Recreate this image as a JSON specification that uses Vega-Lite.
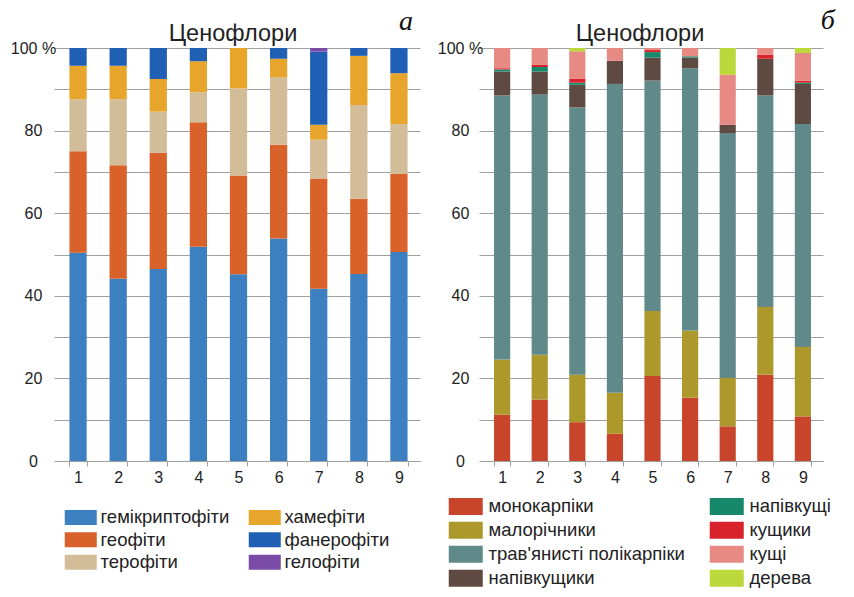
{
  "$schema": "https://vega.github.io/schema/vega-lite/v6.json",
  "background": "white",
  "padding": {"left": 10, "top": 7, "right": 5, "bottom": 3},
  "bounds": "flush",
  "spacing": 62,
  "config": {
    "font": "Liberation Sans",
    "view": {"stroke": null},
    "axis": {"labelFont": "Liberation Sans", "labelFontSize": 16, "labelColor": "#222222", "title": null},
    "legend": {"labelFont": "Liberation Sans", "labelFontSize": 18.5, "labelColor": "#222222", "labelLimit": 400, "title": null, "orient": "none", "columns": 2, "symbolStrokeWidth": 0, "symbolOpacity": 1}
  },
  "resolve": {"scale": {"color": "independent", "x": "independent", "y": "independent"}, "legend": {"color": "independent"}},
  "datasets": {
    "a": [
      {"c": "1", "t": "гемікриптофіти", "v": 50.4, "o": 1},
      {"c": "1", "t": "геофіти", "v": 24.6, "o": 2},
      {"c": "1", "t": "терофіти", "v": 12.6, "o": 3},
      {"c": "1", "t": "хамефіти", "v": 8.1, "o": 4},
      {"c": "1", "t": "фанерофіти", "v": 4.3, "o": 5},
      {"c": "2", "t": "гемікриптофіти", "v": 44.1, "o": 1},
      {"c": "2", "t": "геофіти", "v": 27.5, "o": 2},
      {"c": "2", "t": "терофіти", "v": 16.0, "o": 3},
      {"c": "2", "t": "хамефіти", "v": 8.1, "o": 4},
      {"c": "2", "t": "фанерофіти", "v": 4.3, "o": 5},
      {"c": "3", "t": "гемікриптофіти", "v": 46.5, "o": 1},
      {"c": "3", "t": "геофіти", "v": 28.1, "o": 2},
      {"c": "3", "t": "терофіти", "v": 10.0, "o": 3},
      {"c": "3", "t": "хамефіти", "v": 7.9, "o": 4},
      {"c": "3", "t": "фанерофіти", "v": 7.5, "o": 5},
      {"c": "4", "t": "гемікриптофіти", "v": 51.9, "o": 1},
      {"c": "4", "t": "геофіти", "v": 30.1, "o": 2},
      {"c": "4", "t": "терофіти", "v": 7.3, "o": 3},
      {"c": "4", "t": "хамефіти", "v": 7.5, "o": 4},
      {"c": "4", "t": "фанерофіти", "v": 3.2, "o": 5},
      {"c": "5", "t": "гемікриптофіти", "v": 45.2, "o": 1},
      {"c": "5", "t": "геофіти", "v": 23.9, "o": 2},
      {"c": "5", "t": "терофіти", "v": 21.1, "o": 3},
      {"c": "5", "t": "хамефіти", "v": 9.8, "o": 4},
      {"c": "6", "t": "гемікриптофіти", "v": 53.9, "o": 1},
      {"c": "6", "t": "геофіти", "v": 22.7, "o": 2},
      {"c": "6", "t": "терофіти", "v": 16.3, "o": 3},
      {"c": "6", "t": "хамефіти", "v": 4.5, "o": 4},
      {"c": "6", "t": "фанерофіти", "v": 2.6, "o": 5},
      {"c": "7", "t": "гемікриптофіти", "v": 41.7, "o": 1},
      {"c": "7", "t": "геофіти", "v": 26.7, "o": 2},
      {"c": "7", "t": "терофіти", "v": 9.4, "o": 3},
      {"c": "7", "t": "хамефіти", "v": 3.6, "o": 4},
      {"c": "7", "t": "фанерофіти", "v": 17.7, "o": 5},
      {"c": "7", "t": "гелофіти", "v": 0.9, "o": 6},
      {"c": "8", "t": "гемікриптофіти", "v": 45.3, "o": 1},
      {"c": "8", "t": "геофіти", "v": 18.2, "o": 2},
      {"c": "8", "t": "терофіти", "v": 22.7, "o": 3},
      {"c": "8", "t": "хамефіти", "v": 11.9, "o": 4},
      {"c": "8", "t": "фанерофіти", "v": 1.9, "o": 5},
      {"c": "9", "t": "гемікриптофіти", "v": 50.6, "o": 1},
      {"c": "9", "t": "геофіти", "v": 18.9, "o": 2},
      {"c": "9", "t": "терофіти", "v": 12.1, "o": 3},
      {"c": "9", "t": "хамефіти", "v": 12.3, "o": 4},
      {"c": "9", "t": "фанерофіти", "v": 6.1, "o": 5}
    ],
    "b": [
      {"c": "1", "t": "монокарпіки", "v": 11.2, "o": 1},
      {"c": "1", "t": "малорічники", "v": 13.4, "o": 2},
      {"c": "1", "t": "трав'янисті полікарпіки", "v": 63.9, "o": 3},
      {"c": "1", "t": "напівкущики", "v": 5.8, "o": 4},
      {"c": "1", "t": "напівкущі", "v": 0.5, "o": 5},
      {"c": "1", "t": "кущики", "v": 0.3, "o": 6},
      {"c": "1", "t": "кущі", "v": 4.9, "o": 7},
      {"c": "2", "t": "монокарпіки", "v": 14.9, "o": 1},
      {"c": "2", "t": "малорічники", "v": 10.8, "o": 2},
      {"c": "2", "t": "трав'янисті полікарпіки", "v": 63.0, "o": 3},
      {"c": "2", "t": "напівкущики", "v": 5.6, "o": 4},
      {"c": "2", "t": "напівкущі", "v": 1.1, "o": 5},
      {"c": "2", "t": "кущики", "v": 0.5, "o": 6},
      {"c": "2", "t": "кущі", "v": 4.1, "o": 7},
      {"c": "3", "t": "монокарпіки", "v": 9.4, "o": 1},
      {"c": "3", "t": "малорічники", "v": 11.5, "o": 2},
      {"c": "3", "t": "трав'янисті полікарпіки", "v": 64.7, "o": 3},
      {"c": "3", "t": "напівкущики", "v": 5.5, "o": 4},
      {"c": "3", "t": "напівкущі", "v": 0.5, "o": 5},
      {"c": "3", "t": "кущики", "v": 1.0, "o": 6},
      {"c": "3", "t": "кущі", "v": 6.6, "o": 7},
      {"c": "3", "t": "дерева", "v": 0.8, "o": 8},
      {"c": "4", "t": "монокарпіки", "v": 6.6, "o": 1},
      {"c": "4", "t": "малорічники", "v": 9.9, "o": 2},
      {"c": "4", "t": "трав'янисті полікарпіки", "v": 74.8, "o": 3},
      {"c": "4", "t": "напівкущики", "v": 5.6, "o": 4},
      {"c": "4", "t": "кущі", "v": 3.1, "o": 7},
      {"c": "5", "t": "монокарпіки", "v": 20.6, "o": 1},
      {"c": "5", "t": "малорічники", "v": 15.7, "o": 2},
      {"c": "5", "t": "трав'янисті полікарпіки", "v": 55.8, "o": 3},
      {"c": "5", "t": "напівкущики", "v": 5.6, "o": 4},
      {"c": "5", "t": "напівкущі", "v": 1.3, "o": 5},
      {"c": "5", "t": "кущики", "v": 0.5, "o": 6},
      {"c": "5", "t": "кущі", "v": 0.5, "o": 7},
      {"c": "6", "t": "монокарпіки", "v": 15.3, "o": 1},
      {"c": "6", "t": "малорічники", "v": 16.3, "o": 2},
      {"c": "6", "t": "трав'янисті полікарпіки", "v": 63.5, "o": 3},
      {"c": "6", "t": "напівкущики", "v": 2.6, "o": 4},
      {"c": "6", "t": "напівкущі", "v": 0.3, "o": 5},
      {"c": "6", "t": "кущі", "v": 2.0, "o": 7},
      {"c": "7", "t": "монокарпіки", "v": 8.4, "o": 1},
      {"c": "7", "t": "малорічники", "v": 11.7, "o": 2},
      {"c": "7", "t": "трав'янисті полікарпіки", "v": 59.3, "o": 3},
      {"c": "7", "t": "напівкущики", "v": 2.0, "o": 4},
      {"c": "7", "t": "кущі", "v": 12.1, "o": 7},
      {"c": "7", "t": "дерева", "v": 6.5, "o": 8},
      {"c": "8", "t": "монокарпіки", "v": 20.9, "o": 1},
      {"c": "8", "t": "малорічники", "v": 16.4, "o": 2},
      {"c": "8", "t": "трав'янисті полікарпіки", "v": 51.2, "o": 3},
      {"c": "8", "t": "напівкущики", "v": 8.9, "o": 4},
      {"c": "8", "t": "кущики", "v": 1.0, "o": 6},
      {"c": "8", "t": "кущі", "v": 1.6, "o": 7},
      {"c": "9", "t": "монокарпіки", "v": 10.8, "o": 1},
      {"c": "9", "t": "малорічники", "v": 16.8, "o": 2},
      {"c": "9", "t": "трав'янисті полікарпіки", "v": 54.0, "o": 3},
      {"c": "9", "t": "напівкущики", "v": 9.7, "o": 4},
      {"c": "9", "t": "напівкущі", "v": 0.3, "o": 5},
      {"c": "9", "t": "кущики", "v": 0.5, "o": 6},
      {"c": "9", "t": "кущі", "v": 6.7, "o": 7},
      {"c": "9", "t": "дерева", "v": 1.2, "o": 8}
    ],
    "la": [{"l": "а", "c": "9", "p": 104.3, "k": "label"}, {"l": "Ценофлори", "c": "5", "p": 101.7, "k": "title"}],
    "lb": [{"l": "б", "c": "9", "p": 104.5, "k": "label"}, {"l": "Ценофлори", "c": "5", "p": 101.7, "k": "title"}]
  },
  "hconcat": [
    {
      "width": 363,
      "height": 413,
      "layer": [
        {
          "data": {"name": "a"},
          "mark": {"type": "bar"},
          "encoding": {
            "x": {"field": "c", "type": "nominal", "scale": {"paddingInner": 0.57, "paddingOuter": 0.31},
                  "axis": {"labelAngle": 0, "domainColor": "#a0a0a0", "tickColor": "#a0a0a0", "tickBand": "extent", "tickSize": 5, "labelPadding": 3}},
            "y": {"field": "v", "type": "quantitative", "stack": "zero", "scale": {"domain": [0, 100], "nice": false},
                  "axis": {"values": [0, 10, 20, 30, 40, 50, 60, 70, 80, 90, 100], "labelExpr": "datum.value % 20 == 0 ? (datum.value == 100 ? '100 %' : datum.label) : ''", "grid": true, "gridColor": "#a0a0a0", "domain": false, "tickColor": "#a0a0a0", "tickSize": 3, "labelAlign": "center", "labelPadding": 21}},
            "order": {"field": "o", "type": "quantitative", "sort": "ascending"},
            "color": {"field": "t", "type": "nominal",
                      "scale": {"domain": ["гемікриптофіти", "геофіти", "терофіти", "хамефіти", "фанерофіти", "гелофіти"],
                                "range": ["#3d80c1", "#d9622b", "#d3bd99", "#e8a52b", "#1f5fb4", "#7a4ca8"]},
                      "legend": {"legendX": 6, "legendY": 460, "symbolType": "M-1,-1H3.27V1H-1Z", "symbolSize": 225, "labelOffset": 19, "rowPadding": 3.5, "columnPadding": 17}}
          }
        },
        {
          "data": {"name": "la"},
          "transform": [{"filter": "datum.k == 'label'"}],
          "mark": {"type": "text", "font": "Liberation Serif", "fontStyle": "italic", "fontSize": 28, "baseline": "alphabetic", "align": "center", "dx": 7, "color": "#111111"},
          "encoding": {
            "x": {"field": "c", "type": "nominal"},
            "y": {"field": "p", "type": "quantitative"},
            "text": {"field": "l"}
          }
        },
        {
          "data": {"name": "la"},
          "transform": [{"filter": "datum.k == 'title'"}],
          "mark": {"type": "text", "font": "Liberation Sans", "fontSize": 23.5, "baseline": "alphabetic", "align": "center", "dx": -5.5, "color": "#222222"},
          "encoding": {
            "x": {"field": "c", "type": "nominal"},
            "y": {"field": "p", "type": "quantitative"},
            "text": {"field": "l"}
          }
        }
      ]
    },
    {
      "width": 341,
      "height": 413,
      "layer": [
        {
          "data": {"name": "b"},
          "mark": {"type": "bar"},
          "encoding": {
            "x": {"field": "c", "type": "nominal", "scale": {"paddingInner": 0.57, "paddingOuter": 0.32},
                  "axis": {"labelAngle": 0, "domainColor": "#a0a0a0", "tickColor": "#a0a0a0", "tickBand": "extent", "tickSize": 5, "labelPadding": 3}},
            "y": {"field": "v", "type": "quantitative", "stack": "zero", "scale": {"domain": [0, 100], "nice": false},
                  "axis": {"values": [0, 10, 20, 30, 40, 50, 60, 70, 80, 90, 100], "labelExpr": "datum.value % 20 == 0 ? (datum.value == 100 ? '100 %' : datum.label) : ''", "grid": true, "gridColor": "#a0a0a0", "domain": false, "tickColor": "#a0a0a0", "tickSize": 3, "labelAlign": "center", "labelPadding": 19}},
            "order": {"field": "o", "type": "quantitative", "sort": "ascending"},
            "color": {"field": "t", "type": "nominal",
                      "scale": {"domain": ["монокарпіки", "малорічники", "трав'янисті полікарпіки", "напівкущики", "напівкущі", "кущики", "кущі", "дерева"],
                                "range": ["#c8452c", "#ad982b", "#5f8a89", "#5e4a41", "#16896a", "#d8232c", "#e68a83", "#bdd83a"]},
                      "legend": {"legendX": -34, "legendY": 449, "symbolType": "M-1,-1H3V1H-1Z", "symbolSize": 289, "labelOffset": 22, "rowPadding": 5, "columnPadding": 24}}
          }
        },
        {
          "data": {"name": "lb"},
          "transform": [{"filter": "datum.k == 'label'"}],
          "mark": {"type": "text", "font": "Liberation Serif", "fontStyle": "italic", "fontSize": 28, "baseline": "alphabetic", "align": "center", "dx": 25, "color": "#111111"},
          "encoding": {
            "x": {"field": "c", "type": "nominal"},
            "y": {"field": "p", "type": "quantitative"},
            "text": {"field": "l"}
          }
        },
        {
          "data": {"name": "lb"},
          "transform": [{"filter": "datum.k == 'title'"}],
          "mark": {"type": "text", "font": "Liberation Sans", "fontSize": 23.5, "baseline": "alphabetic", "align": "center", "dx": -12.5, "color": "#222222"},
          "encoding": {
            "x": {"field": "c", "type": "nominal"},
            "y": {"field": "p", "type": "quantitative"},
            "text": {"field": "l"}
          }
        }
      ]
    }
  ]
}
